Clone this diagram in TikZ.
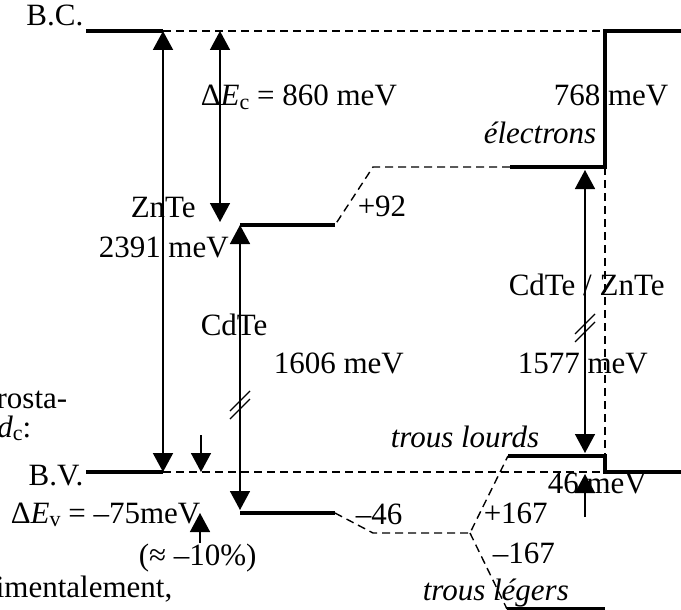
\documentclass[tikz,border=0pt]{standalone}
\usepackage{fontspec}
\setmainfont{Liberation Serif}
\usetikzlibrary{arrows.meta}
\newcommand{\subtxt}[1]{\raisebox{-0.1em}{\fontsize{22}{24}\selectfont #1}}
\tikzset{
  every picture/.style={line width=1.5pt},
  band/.style={line width=3.8pt},
  level/.style={dash pattern=on 8pt off 5pt, line width=1.4pt},
  gap/.style={{Triangle[length=19pt,width=20pt]}-{Triangle[length=19pt,width=20pt]}, line width=#1},
  gap/.default=1.5pt,
  offarrow/.style={-{Triangle[length=19pt,width=20pt]}, line width=1.5pt},
  lbl/.style={anchor=base west, inner sep=0pt, font=\fontsize{31}{36}\selectfont},
  brk/.style={line width=1.2pt},
}

\begin{document}
\begin{tikzpicture}[x=1pt, y=-1pt]
  \useasboundingbox (0,0) rectangle (681,610);
  \coordinate (znC) at (163,31);
  \coordinate (znV) at (163,472);
  \coordinate (cdC) at (240,225);
  \coordinate (cdV) at (240,513);
  \coordinate (qwC) at (605,167);
  \coordinate (qwV) at (605,456);
  \draw[band] (86,31) -- (znC);
  \draw[level] (znC) -- (605,31);
  \draw[band] (681,31) -- (605,31) -- (qwC) -- (510,167);
  \draw[level] (510,167) -- (373,167) -- (335,225);
  \draw[band] (335,225) -- (cdC);
  \draw[band] (86,472) -- (znV);
  \draw[level] (znV) -- (605,472);
  \draw[band] (681,472) -- (605,472) -- (qwV) -- (508,456);
  \draw[level] (qwC) -- (qwV);
  \draw[band] (cdV) -- (335,513);
  \draw[level] (335,513) -- (373,533) -- (470,533) -- (508,456);
  \draw[level] (470,533) -- (507,609);
  \draw[band] (507,609) -- (605,609);

  \draw[gap=2pt] (znV) -- (znC);
  \draw[gap] (220,222) -- (220,31);
  \draw[gap] (240,510) -- (cdC);
  \draw[gap] (585,453) -- (585,170);
  \draw[offarrow] (201,435) -- (201,472);
  \draw[offarrow] (200,543) -- (200,513);
  \draw[offarrow] (585,517) -- (585,474);
  \foreach \x/\y in {240/401, 585/324} {
    \draw[brk] (\x-10,\y+10) -- ++(20,-20);
    \draw[brk] (\x-10,\y+18) -- ++(20,-20);
  }

  \node[lbl, anchor=base east] (bc) at (84,26) {B.C.};
  \node[lbl, anchor=base east] (bv) at (84,485) {B.V.};
  \node[lbl] (dEc) at (200,106) {Δ\textit{E}\subtxt{c} = 860 meV};
  \node[lbl] (e768) at (553,106) {768 meV};
  \node[lbl] (elec) at (483,143) {\textit{électrons}};
  \node[lbl] (zn) at (130,217) {ZnTe};
  \node[lbl] (zn2391) at (98,257) {2391 meV};
  \node[lbl] (cd) at (200,335) {CdTe};
  \node[lbl] (cd1606) at (273,373) {1606 meV};
  \node[lbl] (p92) at (357,216) {+92};
  \node[lbl] (cdzn) at (508,295) {CdTe / ZnTe};
  \node[lbl] (cz1577) at (517,373) {1577 meV};
  \node[lbl, anchor=base east] (rosta) at (68,408) {rosta-};
  \node[lbl, anchor=base east] (dc) at (32,437) {\textit{d}\subtxt{c}:};
  \node[lbl] (dEv) at (10,523) {Δ\textit{E}\subtxt{v} = –75meV};
  \node[lbl] (pct) at (138,565) {(≈ –10\%)};
  \node[lbl, anchor=base east] (expt) at (173,597) {imentalement,};
  \node[lbl] (m46) at (355,524) {–46};
  \node[lbl] (p167) at (483,523) {+167};
  \node[lbl] (m167) at (492,563) {–167};
  \node[lbl] (hh) at (390,447) {\textit{trous lourds}};
  \node[lbl] (hh46) at (547,493) {46 meV};
  \node[lbl] (lh) at (422,600) {\textit{trous légers}};
\end{tikzpicture}
\end{document}
